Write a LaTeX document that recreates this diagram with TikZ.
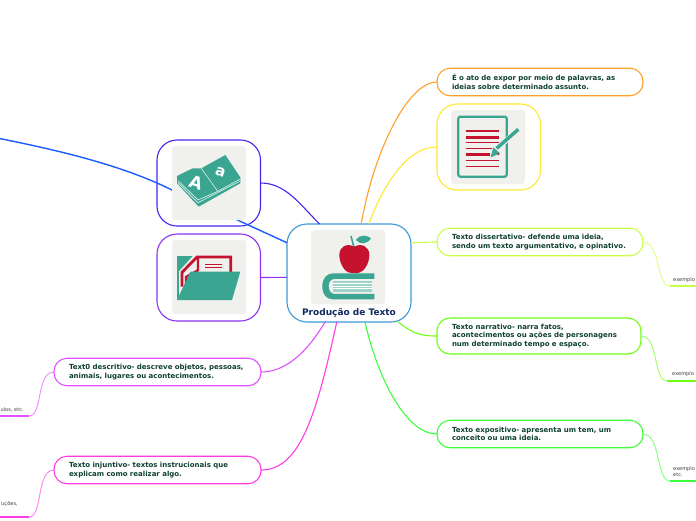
\documentclass[tikz,border=0pt]{standalone}
\usepackage{fontspec}
\setmainfont{DejaVu Sans}
\definecolor{tealicon}{HTML}{3AA692}
\definecolor{redicon}{HTML}{C4122F}
\definecolor{greyicon}{HTML}{F0F0EC}
\definecolor{inktext}{HTML}{0E4034}
\definecolor{inknavy}{HTML}{102A5E}
\definecolor{lineblue}{HTML}{1A5CFF}
\definecolor{linecentral}{HTML}{3A9AD9}
\definecolor{linebook}{HTML}{4028F0}
\definecolor{linefolder}{HTML}{8C32F0}
\definecolor{linedoc}{HTML}{FFE832}
\definecolor{lineato}{HTML}{FFA028}
\definecolor{linedissert}{HTML}{C8FF46}
\definecolor{linenarrat}{HTML}{6EFF14}
\definecolor{lineexpos}{HTML}{3CFF3C}
\definecolor{linedescr}{HTML}{E150FF}
\definecolor{lineinjunt}{HTML}{FF3CE1}
\tikzset{
    topicbox/.style={draw=#1, line width=1.1pt, outer sep=0pt, fill=white, rounded corners=13pt, anchor=west,
        minimum height=27.5pt, inner xsep=15pt, inner ysep=0pt, align=left, text=inktext,
        font=\fontsize{7}{8.5}\selectfont\bfseries},
    imgframe/.style={draw=#1, line width=1.1pt, outer sep=0pt, fill=white, rounded corners=20pt, anchor=north west,
        minimum width=103.5pt, minimum height=86pt},
    imgback/.style={fill=greyicon, rounded corners=3pt, anchor=north west,
        minimum width=74pt, minimum height=74pt, inner sep=0pt, outer sep=0pt},
    leaftext/.style={text=black!75, inner sep=0pt, font=\fontsize{5.1}{6.2}\selectfont},
    branch/.style={draw=#1, line width=1.1pt},
    twig/.style={draw=#1!60, line width=1pt},
    leafline/.style={draw=#1, line width=1.6pt},
}
\begin{document}
\begin{tikzpicture}[x=1pt,y=-1pt]
    \useasboundingbox (0,0) rectangle (696,520);
    \clip (0,0) rectangle (696,520);
    \node[draw=linecentral, line width=1.1pt, outer sep=0pt, fill=white, rounded corners=20pt, anchor=north west,
        minimum width=124pt, minimum height=98pt] (central) at (287,224) {};
    \node[imgframe=linebook] (bookframe) at (157,140) {};
    \node[imgframe=linefolder, minimum height=87pt] (folderframe) at (157,234) {};
    \node[imgframe=linedoc] (docframe) at (437,104) {};
    \node[topicbox=lineato, text width=176pt] (ato) at (437,82)
        {É o ato de expor por meio de palavras, as\\ideias sobre determinado assunto.};
    \node[topicbox=linedissert, text width=176pt] (dissert) at (437,242)
        {Texto dissertativo- defende uma ideia,\\sendo um texto argumentativo, e opinativo.};
    \node[topicbox=linenarrat, text width=174pt, minimum height=36pt] (narrat) at (437,336)
        {Texto narrativo- narra fatos,\\acontecimentos ou ações de personagens\\num determinado tempo e espaço.};
    \node[topicbox=lineexpos, text width=176pt] (expos) at (437,434)
        {Texto expositivo- apresenta um tem, um\\conceito ou uma ideia.};
    \node[topicbox=linedescr, text width=177pt] (descr) at (54,372)
        {Text0 descritivo- descreve objetos, pessoas,\\animais, lugares ou acontecimentos.};
    \node[topicbox=lineinjunt, text width=177pt] (injunt) at (54,470)
        {Texto injuntivo- textos instrucionais que\\explicam como realizar algo.};

    \coordinate (bluefree) at (-3,138);
    \coordinate (bluehit) at (172,190);
    \coordinate (leafa) at (670,286);
    \coordinate (leafb) at (667,381);
    \coordinate (leafc) at (670,481);
    \coordinate (leafd) at (29,416);
    \coordinate (leafe) at (29,517);
    \coordinate (edgea) at (696,286);
    \coordinate (edgeb) at (696,381);
    \coordinate (edgec) at (696,481);
    \coordinate (edged) at (0,416);
    \coordinate (edgee) at (0,517);

    \draw[branch=lineblue, line width=1.4pt] (bluefree) .. controls +(60,12) and +(-50,-25) .. (bluehit);
    \draw[branch=lineblue, line width=1.4pt] (bluehit) -- (central.154);
    \draw[branch=linebook] (bookframe.east) .. controls +(25,0) and +(-20,-20) .. (central.121);
    \draw[branch=linefolder] (folderframe.east) -- (central.184);
    \draw[branch=lineato] (central.76) .. controls +(12,-70) and +(-30,0) .. (ato.west);
    \draw[branch=linedoc] (central.68) .. controls +(15,-40) and +(-30,0) .. (docframe.west);
    \draw[branch=linedissert] (central.26) .. controls +(10,0) and +(-12,0) .. (dissert.west);
    \draw[branch=linenarrat] (central.-45.6) .. controls +(14,10) and +(-20,0) .. (narrat.west);
    \draw[branch=lineexpos] (central.-72) .. controls +(14,60) and +(-30,0) .. (expos.west);
    \draw[branch=linedescr] (central.244) .. controls +(-18,30) and +(25,0) .. (descr.east);
    \draw[branch=lineinjunt] (central.256) .. controls +(-20,90) and +(40,0) .. (injunt.east);

    \draw[twig=linedissert] (dissert.east) .. controls +(18,0) and +(-14,0) .. (leafa);
    \draw[twig=linenarrat] (narrat.east) .. controls +(18,0) and +(-14,0) .. (leafb);
    \draw[twig=lineexpos] (expos.east) .. controls +(18,0) and +(-14,0) .. (leafc);
    \draw[twig=linedescr] (descr.west) .. controls +(-18,0) and +(14,0) .. (leafd);
    \draw[twig=lineinjunt] (injunt.west) .. controls +(-18,0) and +(14,0) .. (leafe);
    \draw[leafline=linedissert] (leafa) -- (edgea);
    \draw[leafline=linenarrat] (leafb) -- (edgeb);
    \draw[leafline=lineexpos] (leafc) -- (edgec);
    \draw[leafline=linedescr] (leafd) -- (edged);
    \draw[leafline=lineinjunt] (leafe) -- (edgee);

    \node[leaftext, anchor=west] (exa) at (673,280) {exemplo};
    \node[leaftext, anchor=west] (exb) at (672,374) {exemplo};
    \node[leaftext, anchor=north west, align=left] (exc) at (673,466) {exemplo\\etc.};
    \node[leaftext, anchor=east] (exd) at (24,410) {ulos, etc.};
    \node[leaftext, anchor=east] (exe) at (18,504) {uções,};

    \node[imgback] (centralback) at (311,230) {};
    \node[imgback] (bookback) at (172,146) {};
    \node[imgback] (folderback) at (172,240) {};
    \node[imgback] (docback) at (451,110) {};
    \node[text=inknavy, inner sep=0pt, font=\fontsize{9}{10}\selectfont\bfseries] (title) at (349,313) {Produção de Texto};

    \begin{scope}[shift={(280,210)},x=0.3333pt,y=-0.3333pt]
        \draw[tealicon, line width=1.6pt] (213,78) -- (222,112);
        \fill[tealicon] (228,90) .. controls (240,72) and (262,75) .. (273,85) .. controls (262,103) and (240,105) .. (228,90) -- cycle;
        \fill[redicon] (223,110) .. controls (200,98) and (178,110) .. (178,135) .. controls (178,160) and (195,188) .. (210,188)
            .. controls (218,190) and (228,190) .. (238,188) .. controls (252,185) and (268,160) .. (268,135)
            .. controls (268,110) and (245,98) .. (223,110) -- cycle;
        \fill[tealicon] (283,190) -- (160,190) .. controls (140,190) and (127,205) .. (127,229) .. controls (127,255) and (140,268) .. (160,268)
            -- (283,268) -- (283,252) -- (165,252) .. controls (152,252) and (146,240) .. (146,229)
            .. controls (146,215) and (152,207) .. (165,207) -- (283,207) -- cycle;
        \fill[tealicon!50] (160,212) rectangle (275,246);
        \foreach \y in {220,228,236} {
            \draw[white, line width=0.4pt] (160,\y) -- (275,\y);
        }
    \end{scope}

    \begin{scope}[shift={(172,150)},x=0.3333pt,y=-0.3333pt]
        \fill[tealicon] (15,78) -- (62,55) -- (88,55) -- (160,15) -- (205,82) -- (205,100) -- (80,170) -- (15,100) -- cycle;
        \draw[white, line width=0.5pt] (18,92) -- (78,150) -- (135,125) -- (203,88);
        \draw[white, line width=0.5pt] (18,98) -- (78,158) -- (203,94);
        \draw[greyicon, line width=0.5pt] (88,55) -- (138,125);
        \node[white, inner sep=0pt, rotate=-18, font=\fontsize{17}{17}\selectfont\bfseries] (lettera) at (72,97) {A};
        \node[white, inner sep=0pt, rotate=-18, font=\fontsize{15}{15}\selectfont\bfseries] (letterb) at (145,68) {a};
    \end{scope}

    \begin{scope}[shift={(172,245)},x=0.3333pt,y=-0.3333pt]
        \fill[tealicon] (15,33) -- (62,33) -- (15,85) -- cycle;
        \fill[tealicon] (15,80) rectangle (20,165);
        \draw[redicon, line width=2.8pt] (176,82) -- (176,36) -- (75,36) -- (30,82) -- (30,125);
        \draw[redicon, line width=2.4pt] (78,36) -- (78,76) -- (42,96) -- (42,125);
        \draw[redicon, line width=1.4pt] (100,58) -- (150,58);
        \draw[redicon, line width=1.4pt] (100,68) -- (150,68);
        \fill[tealicon] (55,80) -- (205,80) -- (180,165) -- (15,165) -- cycle;
    \end{scope}

    \begin{scope}[shift={(450,110)},x=0.3333pt,y=-0.3333pt]
        \draw[tealicon, line width=2.2pt, rounded corners=2pt] (25,20) rectangle (170,200);
        \foreach \y/\xend/\w in {63/147/2.4,82/147/2.4,98/147/1.4,115/125/1.4,133/120/2.4,152/147/1.4,170/147/1.4} {
            \draw[redicon, line width=\w pt] (47,\y) -- (\xend,\y);
        }
        \draw[greyicon, line width=5pt] (135,122) -- (205,58);
        \draw[tealicon, line width=3.4pt] (140,115) -- (205,58);
        \fill[tealicon] (122,142) -- (130,112) -- (150,130) -- cycle;
        \fill[redicon] (145,133) circle (1pt);
    \end{scope}
\end{tikzpicture}
\end{document}
